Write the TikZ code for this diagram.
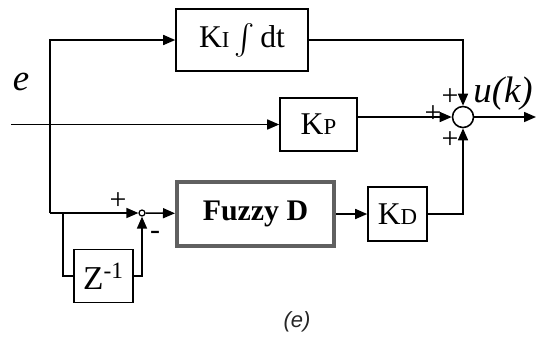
\documentclass[tikz,border=0pt]{standalone}
\usepackage{amsmath}
\usepackage{fontspec}
\setmainfont{Liberation Serif}
\newfontfamily\capfont{Liberation Sans}
\usetikzlibrary{arrows.meta,positioning,calc}
\definecolor{frame}{HTML}{606060}
\tikzset{blk/.style={draw,line width=0.9pt,font=\fontsize{18}{21}\selectfont,inner sep=0pt}, flow/.style={-{Triangle[length=2.4mm,width=2mm]},line width=0.9pt}, wire/.style={line width=0.9pt}, sgn/.style={font=\fontsize{17}{19}\selectfont,inner sep=0pt}, sig/.style={font=\fontsize{21}{24}\selectfont\itshape,inner sep=0pt}}
\newcommand{\gain}[1]{K{\fontsize{13}{14}\selectfont #1}}

\begin{document}
\begin{tikzpicture}
\useasboundingbox (0,0) rectangle (10.74,-6.74);
\node[blk,minimum width=2.64cm,minimum height=1.24cm] (ki) at (4.84,-0.80) {\gain{I}\,$\int$\,dt};
\node[blk,minimum width=1.54cm,minimum height=1.06cm] (kp) at (6.37,-2.49) {\gain{P}};
\node[blk,minimum width=3.14cm,minimum height=1.28cm,draw=frame,line width=2.3pt,font=\fontsize{17}{20}\selectfont\bfseries] (fuzzy) at (5.11,-4.28) {Fuzzy D};
\node[blk,minimum width=1.18cm,minimum height=1.08cm] (kd) at (7.95,-4.28) {\gain{D}};
\node[blk,minimum width=1.18cm,minimum height=1.06cm,font=\fontsize{19}{22}\selectfont] (zinv) at (2.07,-5.52) {Z\textsuperscript{-1}};
\node[circle,draw,line width=0.9pt,minimum size=0.42cm,inner sep=0pt] (sum) at (9.26,-2.34) {};
\node[circle,draw,line width=0.7pt,minimum size=0.12cm,inner sep=0pt] (jn) at (2.84,-4.26) {};
\coordinate (in) at (0.22,-2.49);
\coordinate (split) at (1.0,-4.26);
\coordinate (tap) at (1.26,-4.26);
\coordinate (out) at (10.72,-2.34);
% signals
\draw[flow] (in) -- (kp);
\draw[flow] (split) |- (ki.west);
\draw[flow] (split) -- (jn);
\draw[flow] (ki.east) -| (sum.north);
\draw[flow] (kp.east |- sum) -- (sum);
\draw[flow] (kd.east) -| (sum.south);
\draw[flow] (sum) -- (out);
\draw[flow] (jn) -- (fuzzy);
\draw[flow] (fuzzy) -- (kd);
\draw[wire] (tap) |- (zinv.west);
\draw[flow] (zinv.east) -| (jn.south);
% signs and labels
\node[sgn] (s1) at (9.0,-1.94) {+};
\node[sgn] (s2) at (8.66,-2.28) {+};
\node[sgn] (s3) at (9.0,-2.80) {+};
\node[sgn] (s4) at (2.36,-4.02) {+};
\node[sgn] (s5) at (3.10,-4.70) {-};
\node[sig] (e) at (0.42,-1.64) {e};
\node[sig,anchor=west] (u) at (9.46,-1.88) {u(k)};
\node[font=\fontsize{12.5}{14}\selectfont\capfont\itshape,text=black!85] (cap) at (5.94,-6.44) {(e)};
\end{tikzpicture}
\end{document}
